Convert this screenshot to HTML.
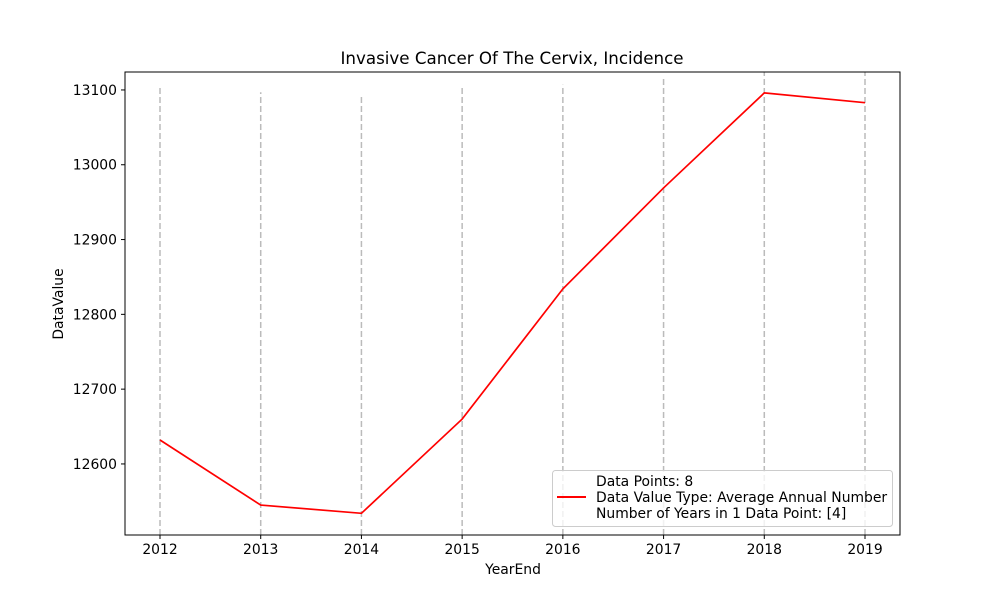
<!DOCTYPE html>
<html><head><meta charset="utf-8"><style>
body{margin:0;background:#fff;}
svg{font-family:"DejaVu Sans","Liberation Sans",sans-serif;}
</style></head><body>
<svg id="chart" width="1000" height="600">
<rect width="1000" height="600" fill="#fff"/>
<text x="512" y="64" font-size="16.7" text-anchor="middle">Invasive Cancer Of The Cervix, Incidence</text>
<g id="grid"></g>
<g id="series"></g>
<rect x="125" y="72" width="775" height="463" fill="none" stroke="#000" stroke-width="1"/>
<g id="xaxis"></g><g id="yaxis"></g>
<text x="513" y="574" font-size="13.9" text-anchor="middle">YearEnd</text>
<text x="63" y="304" font-size="13.9" text-anchor="middle" transform="rotate(-90 63 304)">DataValue</text>
<g>
<rect x="552.5" y="470.5" width="340" height="56" rx="3" fill="#fff" fill-opacity="0.8" stroke="#ccc"/>
<line x1="557" y1="497" x2="586" y2="497" stroke="red" stroke-width="2"/>
<text x="596" y="486" font-size="13.9">Data Points: 8</text>
<text x="596" y="502" font-size="13.9">Data Value Type: Average Annual Number</text>
<text x="596" y="518" font-size="13.9">Number of Years in 1 Data Point: [4]</text>
</g>
</svg>
<script>
const years=[2012,2013,2014,2015,2016,2017,2018,2019];
const values=[12632,12545,12534,12660,12834,12969,13096,13083];
const vlineTops=[13103,13097,13092,13104,13107,13118,13130,13130];
const yTicks=[12600,12700,12800,12900,13000,13100];
const X0=125,X1=900,Y0=72,Y1=535,YMIN=12505,YMAX=13124;
const xs=y=>160+(y-2012)*(865-160)/7;
const ys=v=>Y1-(v-YMIN)*(Y1-Y0)/(YMAX-YMIN);
const NS="http://www.w3.org/2000/svg";
function mk(t,a,p){const e=document.createElementNS(NS,t);for(const k in a)e.setAttribute(k,a[k]);p.appendChild(e);return e;}
const grid=document.getElementById('grid'),ser=document.getElementById('series'),xa=document.getElementById('xaxis'),ya=document.getElementById('yaxis');
years.forEach((yr,i)=>{
 const l=mk('line',{x1:xs(yr),x2:xs(yr),y1:Y1,y2:Math.max(Y0,ys(vlineTops[i])),stroke:'#bbb','stroke-width':1.5,'stroke-dasharray':'6,3'},grid);
 
 
 const t=mk('line',{x1:xs(yr),x2:xs(yr),y1:Y1,y2:Y1+4,stroke:'#000'},xa);
 
 
 const tx=mk('text',{x:xs(yr),y:Y1+19,'font-size':13.9,'text-anchor':'middle'},xa);tx.textContent=yr;
 
 
});
yTicks.forEach(v=>{
 const t=mk('line',{x1:X0-4,x2:X0,y1:ys(v),y2:ys(v),stroke:'#000'},ya);
 
 
 const tx=mk('text',{x:X0-8,y:ys(v)+5,'font-size':13.9,'text-anchor':'end'},ya);tx.textContent=v;
 
 
});
const p=mk('polyline',{points:years.map((y,i)=>xs(y)+','+ys(values[i])).join(' '),fill:'none',stroke:'red','stroke-width':1.7},ser);


</script>
</body></html>
